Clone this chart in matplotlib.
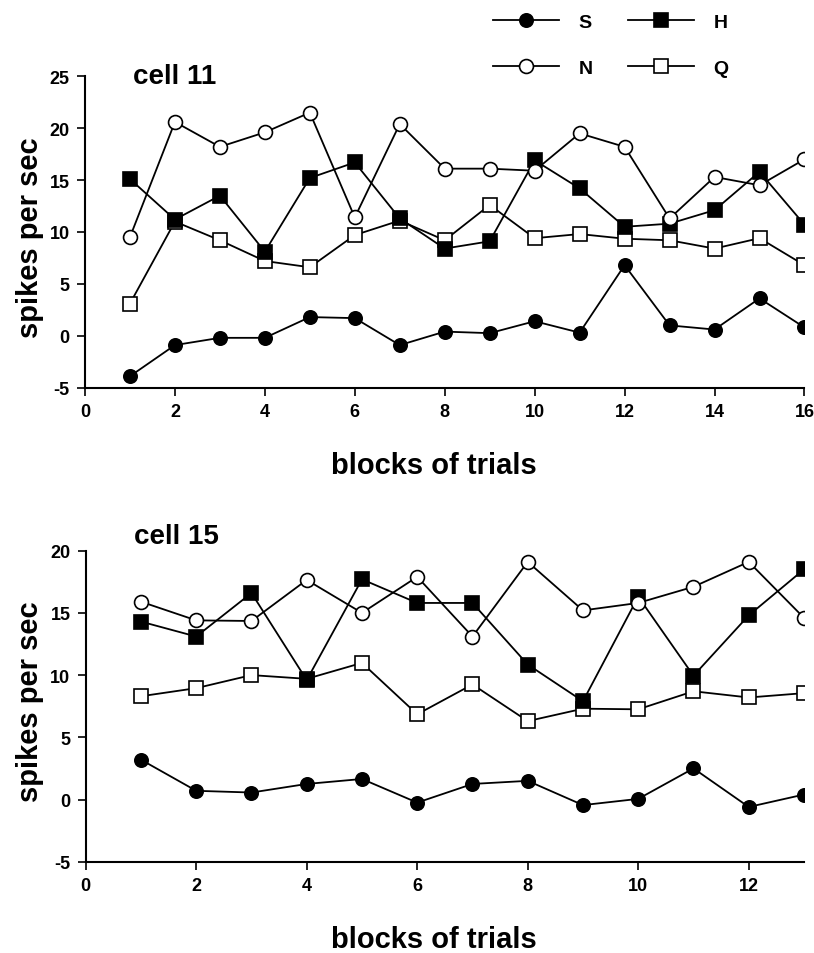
import matplotlib
matplotlib.use("Agg")
import matplotlib.pyplot as plt

plt.rcParams['font.family'] = ['Liberation Sans', 'DejaVu Sans']
plt.rcParams['font.weight'] = 'bold'
plt.rcParams['axes.unicode_minus'] = False

# cell 11: 16 blocks
blocks_11 = list(range(1, 17))
s_11 = [-3.9, -0.9, -0.2, -0.2, 1.8, 1.7, -0.9, 0.4, 0.25, 1.4, 0.3, 6.8, 1.0, 0.6, 3.6, 0.8]
h_11 = [15.1, 11.2, 13.5, 8.1, 15.2, 16.7, 11.3, 8.4, 9.1, 16.9, 14.2, 10.5, 10.8, 12.1, 15.8, 10.7]
n_11 = [9.5, 20.6, 18.2, 19.6, 21.5, 11.4, 20.4, 16.1, 16.1, 15.9, 19.5, 18.2, 11.3, 15.3, 14.5, 17.0]
q_11 = [3.1, 11.0, 9.2, 7.2, 6.6, 9.7, 11.1, 9.2, 12.6, 9.4, 9.8, 9.35, 9.2, 8.4, 9.4, 6.8]

# cell 15: 13 blocks
blocks_15 = list(range(1, 14))
s_15 = [3.2, 0.7, 0.56, 1.25, 1.65, -0.25, 1.25, 1.5, -0.45, 0.05, 2.5, -0.6, 0.4]
h_15 = [14.3, 13.1, 16.6, 9.6, 17.7, 15.8, 15.8, 10.85, 7.9, 16.3, 9.95, 14.8, 18.5]
n_15 = [15.9, 14.4, 14.35, 17.65, 15.0, 17.9, 13.1, 19.1, 15.2, 15.8, 17.1, 19.1, 14.6]
q_15 = [8.3, 8.95, 10.0, 9.7, 10.98, 6.85, 9.25, 6.3, 7.3, 7.25, 8.7, 8.2, 8.55]

fig = plt.figure(figsize=(8.14, 9.54), dpi=100)
ax1 = fig.add_axes([0.1044, 0.5926, 0.8839, 0.3264])
ax2 = fig.add_axes([0.1053, 0.0957, 0.8824, 0.326])

line_kw = dict(color='black', lw=1.3, mew=1.2, mec='black')


def draw_cell(ax, x, s, h, n, q, title, xmax, ymax, ylab_y, title_y):
    ax.plot(x, q, marker='s', ms=10, mfc='white', zorder=2, label='Q', **line_kw)
    ax.plot(x, h, marker='s', ms=10, mfc='black', zorder=3, label='H', **line_kw)
    ax.plot(x, n, marker='o', ms=10, mfc='white', zorder=4, label='N', **line_kw)
    ax.plot(x, s, marker='o', ms=9.6, mfc='black', zorder=5, label='S', **line_kw)

    ax.set_xlim(0, xmax)
    ax.set_ylim(-5, ymax)
    ax.set_xticks(range(0, xmax + 1, 2))
    ax.set_yticks(range(-5, ymax + 1, 5))
    for side in ('top', 'right'):
        ax.spines[side].set_visible(False)
    for side in ('left', 'bottom'):
        ax.spines[side].set_linewidth(1.5)
    ax.tick_params(direction='out', length=6, width=1.2, pad=5, labelsize=13)
    for lab in ax.get_xticklabels() + ax.get_yticklabels():
        lab.set_fontweight('bold')

    ax.set_xlabel('blocks of trials', fontsize=21, fontweight='bold', va='center')
    ax.xaxis.set_label_coords(0.485, -0.247)
    ax.set_ylabel('spikes per sec', fontsize=21, fontweight='bold', va='center')
    ax.yaxis.set_label_coords(-0.077, ylab_y)

    ax.text(0.0667, title_y, title, transform=ax.transAxes, fontsize=20,
            fontweight='bold', ha='left', va='baseline')


draw_cell(ax1, blocks_11, s_11, h_11, n_11, q_11, 'cell 11', 16, 25, 0.486, 0.9785)
draw_cell(ax2, blocks_15, s_15, h_15, n_15, q_15, 'cell 15', 13, 20, 0.518, 1.0248)

# key shared by both panels
handles, labels = ax1.get_legend_handles_labels()
order = [labels.index(k) for k in ('S', 'N', 'H', 'Q')]
fig.legend([handles[i] for i in order], [labels[i] for i in order],
           ncol=2, loc='upper left', bbox_to_anchor=(0.594, 0.995),
           frameon=False, borderpad=0, handlelength=3.4, handletextpad=1.0,
           columnspacing=1.8, labelspacing=1.45, prop=dict(size=14, weight='bold'))

fig.savefig('out.png', dpi=100)
